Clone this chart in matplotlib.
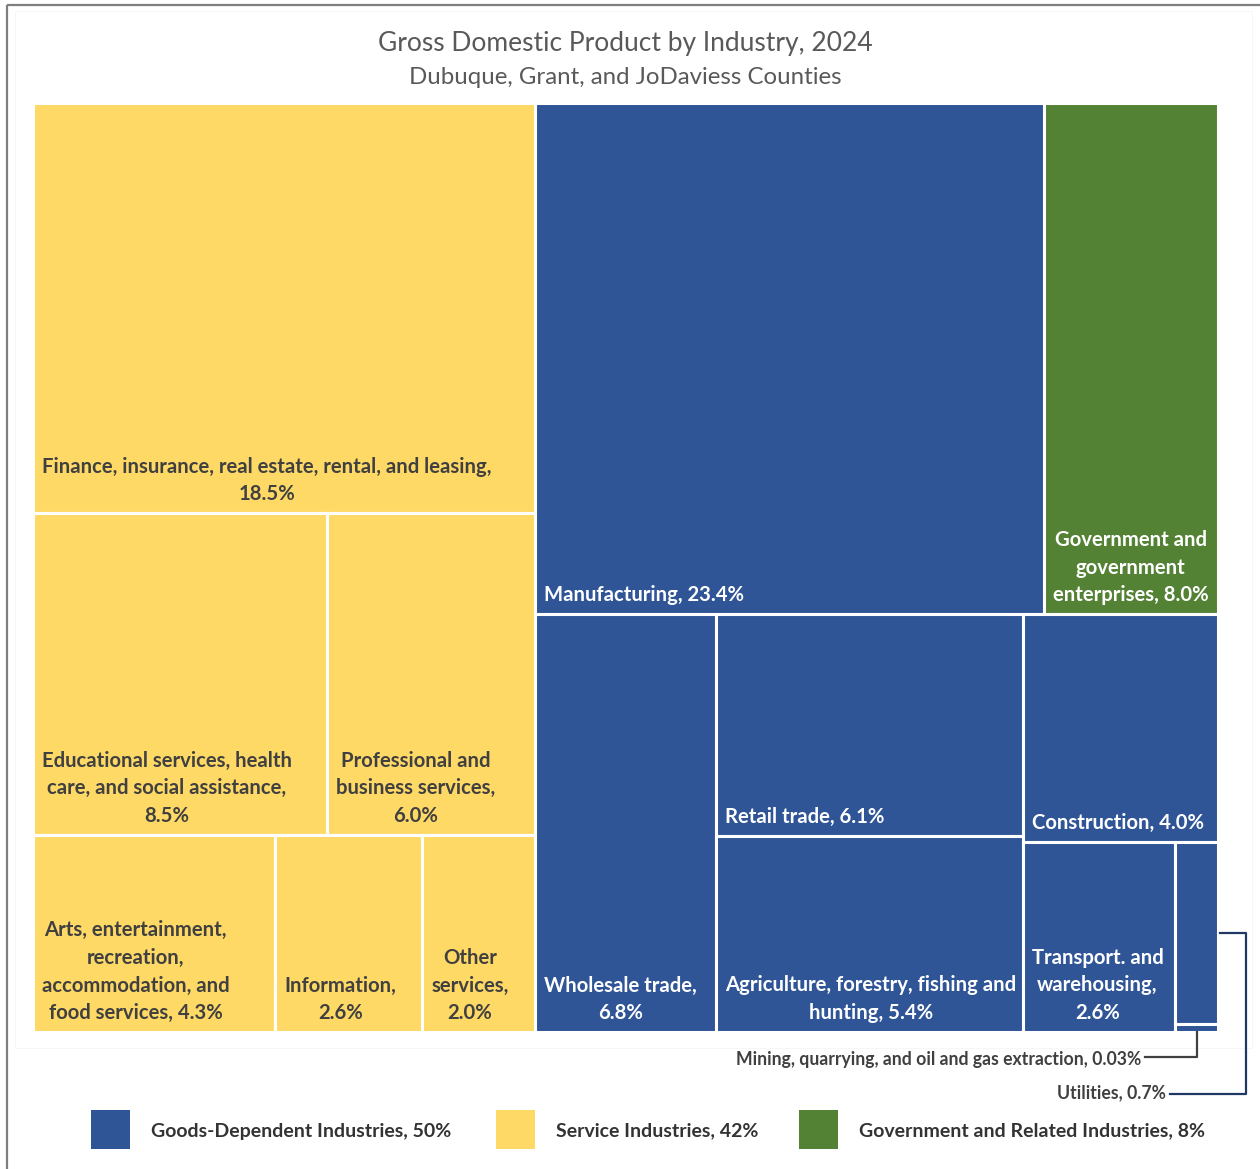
import matplotlib
matplotlib.use('Agg')
import matplotlib.pyplot as plt
from matplotlib.patches import Rectangle

plt.rcParams['font.family'] = ['Lato', 'DejaVu Sans']

# industry names (text before the share, incl. separator) and shares in % of GDP
names = [
    "Finance, insurance, real estate, rental, and leasing,\n",
    "Educational services, health\ncare, and social assistance,\n",
    "Professional and\nbusiness services,\n",
    "Arts, entertainment,\nrecreation,\naccommodation, and\nfood services, ",
    "Information,\n",
    "Other\nservices,\n",
    "Manufacturing, ",
    "Government and\ngovernment\nenterprises, ",
    "Wholesale trade,\n",
    "Retail trade, ",
    "Agriculture, forestry, fishing and\nhunting, ",
    "Construction, ",
    "Transport. and\nwarehousing,\n",
    "Utilities, ",
    "Mining, quarrying, and oil and gas extraction, ",
]
shares = [18.5, 8.5, 6.0, 4.3, 2.6, 2.0, 23.4, 8.0, 6.8, 6.1, 5.4, 4.0, 2.6, 0.7, 0.03]
groups = ['svc'] * 6 + ['goods', 'gov'] + ['goods'] * 7

group_names = ['goods', 'svc', 'gov']
group_labels = ['Goods-Dependent Industries, 50%', 'Service Industries, 42%',
                'Government and Related Industries, 8%']
colors = {'goods': '#2F5597', 'svc': '#FFD966', 'gov': '#548235'}

# treemap nesting: 'h' = side by side, 'v' = stacked (top to bottom)
tree = ('h', [
    ('v', [0, ('h', [1, 2]), ('h', [3, 4, 5])]),
    ('v', [('h', [6, 7]),
           ('h', [8, ('v', [9, 10]),
                  ('v', [11, ('h', [12, ('v', [13, 14])])])])]),
])


def total(node):
    if isinstance(node, int):
        return shares[node]
    return sum(total(c) for c in node[1])


def place(node, x, y, w, h, out):
    if isinstance(node, int):
        out[node] = (x, y, w, h)
        return
    d, kids = node
    t = total(node)
    pos = 0.0
    for k in kids:
        f = total(k) / t
        if d == 'h':
            place(k, x + pos * w, y, f * w, h, out)
        else:
            place(k, x, y + pos * h, w, f * h, out)
        pos += f


fig = plt.figure(figsize=(12.6, 11.69), dpi=100)
ax = fig.add_axes([0, 0, 1, 1])
ax.set_xlim(0, 1260)
ax.set_ylim(1169, 0)
ax.axis('off')

# outer frame
ax.add_patch(Rectangle((7, 5), 1400, 1400, fill=False, edgecolor='#7f7f7f', lw=1.6))
ax.add_patch(Rectangle((15, 11), 1237, 1037, fill=False, edgecolor='#f6f6f6', lw=0.7))

ax.text(625, 43, 'Gross Domestic Product by Industry, 2024', ha='center', va='center',
        fontsize=19, color='#595959')
ax.text(625, 78, 'Dubuque, Grant, and JoDaviess Counties', ha='center', va='center',
        fontsize=17.3, color='#595959')

rects = {}
place(tree, 33, 103, 1185, 929, rects)

for i in range(len(shares)):
    x, y, w, h = rects[i]
    ax.add_patch(Rectangle((x, y), w, h, facecolor=colors[groups[i]],
                           edgecolor='white', lw=2.2))
    if i >= 13:
        continue
    tc = '#404040' if groups[i] == 'svc' else 'white'
    ax.text(x + 9, y + h - 9, names[i] + f"{shares[i]}%", ha='left', va='bottom',
            multialignment='center', fontsize=14.6, fontweight='bold', color=tc,
            linespacing=1.47)

# callouts for the two tiny tiles
x, y, w, h = rects[14]
ax.text(1141, 1059, names[14] + f"{shares[14]}%", ha='right', va='center',
        fontsize=12.7, fontweight='bold', color='#404040')
ax.plot([1145, x + w / 2, x + w / 2], [1057, 1057, y + h], color='#404040', lw=1.6)

x, y, w, h = rects[13]
ax.text(1166, 1093, names[13] + f"{shares[13]}%", ha='right', va='center',
        fontsize=12.7, fontweight='bold', color='#404040')
ax.plot([1170, 1246, 1246, x + w + 2], [1094, 1094, y + h / 2, y + h / 2],
        color='#1F3864', lw=1.6)

# legend
for lx, g, lab in zip([91, 496, 799], group_names, group_labels):
    ax.add_patch(Rectangle((lx, 1110), 39, 39, facecolor=colors[g], edgecolor='none'))
    ax.text(lx + 60, 1131, lab, ha='left', va='center', fontsize=14,
            fontweight='bold', color='#333333')

fig.savefig('out.png', dpi=100)
